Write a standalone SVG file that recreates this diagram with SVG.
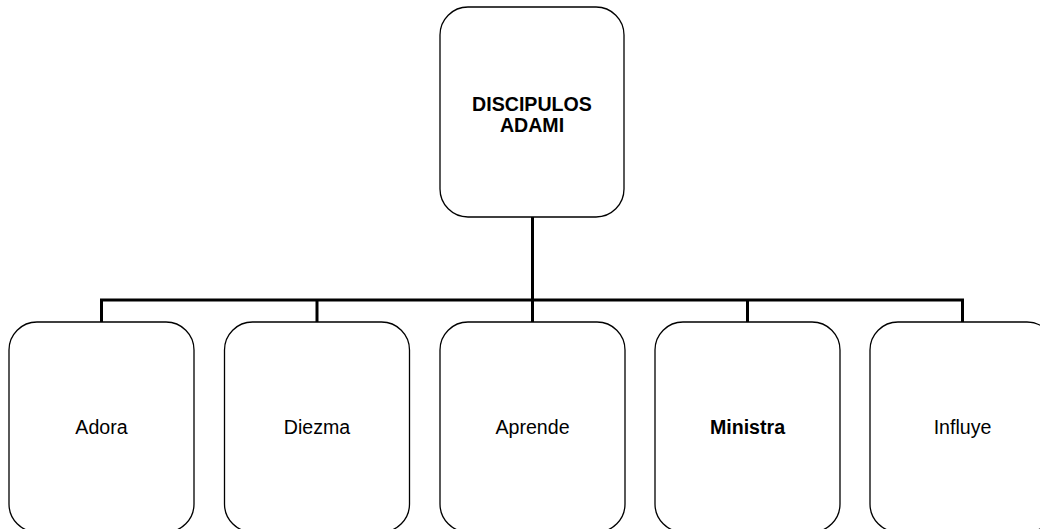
<svg xmlns="http://www.w3.org/2000/svg" width="1040" height="529" viewBox="0 0 1040 529">
<style>
.box{fill:#fff;stroke:#000;stroke-width:1.3}
.lbl{font-family:"Liberation Sans",Arial,sans-serif;font-size:19.6px;fill:#000;text-anchor:middle}
.b{font-weight:bold}
.conn{fill:none;stroke:#000;stroke-width:3;stroke-linecap:butt;stroke-linejoin:miter}
</style>
<rect width="1040" height="529" fill="#fff"/>
<g id="connectors">
<path class="conn" d="M532.5 217 V300"/>
<path class="conn" d="M101.5 322 V300 H962.5 V322"/>
<path class="conn" d="M317 300 V322"/>
<path class="conn" d="M532.5 300 V322"/>
<path class="conn" d="M747.5 300 V322"/>
</g>
<g id="node-root">
<rect class="box" x="440" y="7" width="184" height="210" rx="28" ry="28"/>
<text class="lbl b" x="532" y="111">DISCIPULOS</text>
<text class="lbl b" x="532" y="132">ADAMI</text>
</g>
<g id="node-adora">
<rect class="box" x="9" y="322" width="185" height="210" rx="28" ry="28"/>
<text class="lbl" x="101.5" y="434">Adora</text>
</g>
<g id="node-diezma">
<rect class="box" x="224.5" y="322" width="185" height="210" rx="28" ry="28"/>
<text class="lbl" x="317" y="434">Diezma</text>
</g>
<g id="node-aprende">
<rect class="box" x="440" y="322" width="185" height="210" rx="28" ry="28"/>
<text class="lbl" x="532.5" y="434">Aprende</text>
</g>
<g id="node-ministra">
<rect class="box" x="655" y="322" width="185" height="210" rx="28" ry="28"/>
<text class="lbl b" x="747.5" y="434">Ministra</text>
</g>
<g id="node-influye">
<rect class="box" x="870" y="322" width="185" height="210" rx="28" ry="28"/>
<text class="lbl" x="962.5" y="434">Influye</text>
</g>
</svg>
